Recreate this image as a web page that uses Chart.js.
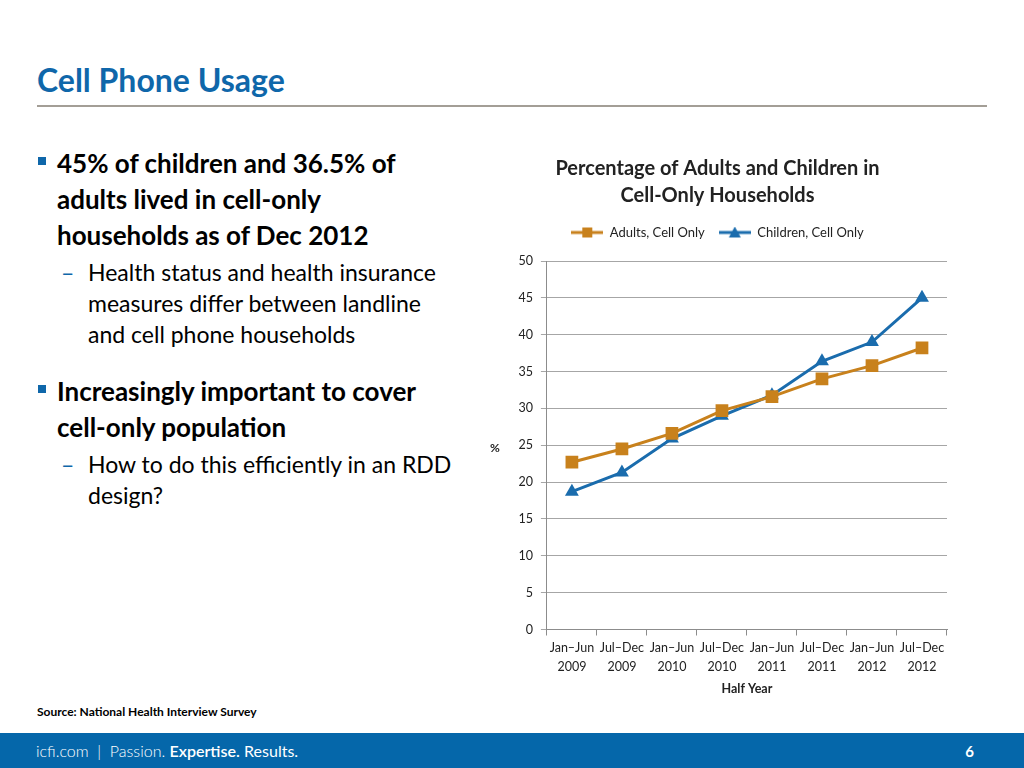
<!DOCTYPE html>
<html>
<head>
<meta charset="utf-8">
<script src="https://cdn.jsdelivr.net/npm/chart.js@4/dist/chart.umd.min.js"></script>
<style>
  html, body { margin: 0; padding: 0; }
  body { width: 1024px; height: 768px; position: relative; background: #fff; font-family: Lato, "Open Sans", sans-serif; overflow: hidden; }
  .title { position: absolute; left: 37px; top: 60px; font-size: 32px; font-weight: bold; color: #0f67aa; }
  .rule { position: absolute; left: 37px; top: 105px; width: 950px; height: 2px; background: #a39e96; }
  .bullets { position: absolute; left: 37px; top: 145px; width: 460px; color: #000; }
  .b1 { position: relative; padding-left: 20px; font-size: 26px; font-weight: bold; line-height: 36px; }
  .b1::before { content: ""; position: absolute; left: 1px; top: 12px; width: 8px; height: 8px; background: #0f67aa; }
  .b2 { position: relative; padding-left: 51px; font-size: 23px; line-height: 31px; margin-top: 4px; }
  .b2::before { content: "\2013"; position: absolute; left: 24px; top: 0; color: #0f67aa; }
  .source { position: absolute; left: 37px; top: 704px; font-size: 12px; font-weight: bold; }
  .footer { position: absolute; left: 0; top: 733px; width: 1024px; height: 35px; background: #0567aa; color: #fff; }
  .footer .tag { position: absolute; left: 36px; top: 8px; font-size: 16px; font-weight: 300; }
  .footer .num { position: absolute; right: 50px; top: 9px; font-size: 15px; font-weight: bold; }
  #wrap { position: absolute; left: 482px; top: 152px; width: 475px; height: 548px; }
</style>
</head>
<body>
<div class="title">Cell Phone Usage</div>
<div class="rule"></div>
<div class="bullets">
  <div class="b1">45% of children and 36.5% of<br>adults lived in cell-only<br>households as of Dec 2012</div>
  <div class="b2">Health status and health insurance<br>measures differ between landline<br>and cell phone households</div>
  <div class="b1" style="margin-top:23px">Increasingly important to cover<br>cell-only population</div>
  <div class="b2">How to do this efficiently in an RDD<br>design?</div>
</div>
<div class="source">Source: National Health Interview Survey</div>
<div class="footer">
  <div class="tag">icfi.com &nbsp;|&nbsp; Passion. <b style="font-weight:600">Expertise.</b> <b>Results.</b></div>
  <div class="num">6</div>
</div>
<div id="wrap"><canvas id="chart"></canvas></div>
<script>
const halfYears = [
  ["Jan–Jun", "2009"], ["Jul–Dec", "2009"], ["Jan–Jun", "2010"], ["Jul–Dec", "2010"],
  ["Jan–Jun", "2011"], ["Jul–Dec", "2011"], ["Jan–Jun", "2012"], ["Jul–Dec", "2012"]
];
const adults = [22.7, 24.5, 26.6, 29.7, 31.6, 34.0, 35.8, 38.2];
const children = [18.7, 21.3, 25.9, 29.0, 31.8, 36.4, 39.0, 45.0];
const yTicks = [0, 5, 10, 15, 20, 25, 30, 35, 40, 45, 50];

const textColor = "#222";
const font = "Lato, 'Open Sans', sans-serif";
const orange = "#c8811c";
const blue = "#1a6cad";

// legend swatch: short line with the marker in the middle
function legendSwatch(color, shape) {
  const c = document.createElement("canvas");
  c.width = 32;
  c.height = 12;
  const g = c.getContext("2d");
  g.strokeStyle = color;
  g.fillStyle = color;
  g.lineWidth = 3;
  g.beginPath();
  g.moveTo(0, 6);
  g.lineTo(32, 6);
  g.stroke();
  g.beginPath();
  if (shape === "rect") {
    g.rect(11, 1, 10, 10);
  } else {
    g.moveTo(16, 0);
    g.lineTo(22, 11);
    g.lineTo(10, 11);
    g.closePath();
  }
  g.fill();
  return c;
}

// draws the unrotated "%" next to the y axis
const percentLabel = {
  id: "percentLabel",
  afterDraw(chart) {
    const y = chart.scales.y;
    const ctx = chart.ctx;
    ctx.save();
    ctx.fillStyle = textColor;
    ctx.font = "bold 12px " + font;
    ctx.textAlign = "center";
    ctx.textBaseline = "middle";
    ctx.fillText("%", y.left + 7, (y.top + y.bottom) / 2 + 3);
    ctx.restore();
  }
};

// extra room under the legend
const legendGap = {
  id: "legendGap",
  beforeInit(chart) {
    const fit = chart.legend.fit;
    chart.legend.fit = function () {
      fit.call(this);
      this.height += 12;
    };
  }
};

const swatches = [legendSwatch(orange, "rect"), legendSwatch(blue, "triangle")];

new Chart(document.getElementById("chart"), {
  type: "line",
  data: {
    labels: halfYears,
    datasets: [
      {
        label: "Adults, Cell Only",
        data: adults,
        borderColor: orange,
        backgroundColor: orange,
        borderWidth: 3,
        pointStyle: "rect",
        pointRadius: 9,
        pointBorderWidth: 0,
        tension: 0
      },
      {
        label: "Children, Cell Only",
        data: children,
        borderColor: blue,
        backgroundColor: blue,
        borderWidth: 3,
        pointStyle: "triangle",
        pointRadius: 8,
        pointBorderWidth: 0,
        tension: 0
      }
    ]
  },
  options: {
    responsive: true,
    maintainAspectRatio: false,
    animation: false,
    layout: { padding: { left: 6, right: 10, top: 0, bottom: 0 } },
    plugins: {
      title: {
        display: true,
        text: ["Percentage of Adults and Children in", "Cell-Only Households"],
        color: textColor,
        font: { family: font, size: 20, weight: "bold", lineHeight: 1.35 },
        padding: { top: 3, bottom: 3 }
      },
      legend: {
        position: "top",
        labels: {
          color: textColor,
          font: { family: font, size: 13 },
          usePointStyle: true,
          pointStyleWidth: 32,
          padding: 14,
          generateLabels(chart) {
            return chart.data.datasets.map((ds, i) => ({
              text: ds.label,
              fontColor: textColor,
              pointStyle: swatches[i],
              datasetIndex: i,
              lineWidth: 0
            }));
          }
        }
      },
      tooltip: { enabled: false }
    },
    scales: {
      x: {
        offset: true,
        grid: { display: true, drawOnChartArea: false, offset: true, tickLength: 6, color: "#8c8c8c" },
        border: { color: "#8c8c8c" },
        ticks: { color: textColor, font: { family: font, size: 12.5, lineHeight: 1.5 }, maxRotation: 0, autoSkip: false, padding: 3 },
        title: { display: true, text: "Half Year", color: textColor, font: { family: font, size: 12.5, weight: "bold" }, padding: { top: 2 } }
      },
      y: {
        min: 0,
        max: 50,
        afterBuildTicks(scale) { scale.ticks = yTicks.map((v) => ({ value: v })); },
        grid: { color: "#a6a6a6", tickLength: 6 },
        border: { color: "#8c8c8c" },
        ticks: { color: textColor, font: { family: font, size: 12.5 }, padding: 8 },
        title: { display: true, text: " ", font: { size: 12 } }
      }
    }
  },
  plugins: [percentLabel, legendGap]
});
</script>
</body>
</html>
